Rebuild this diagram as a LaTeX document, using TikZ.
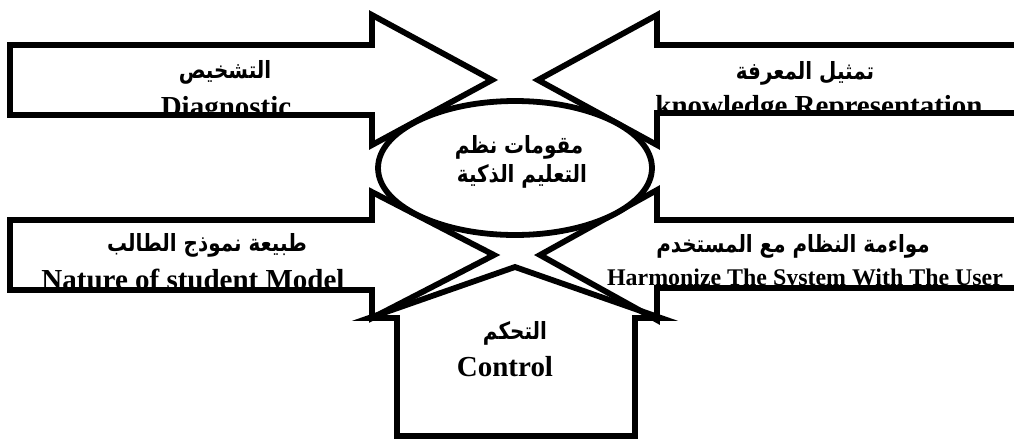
\documentclass[tikz,border=0pt]{standalone}
\usepackage{fontspec}
\setmainfont{Liberation Serif}
\newfontfamily\arabicfont[Script=Arabic, FakeStretch=0.84]{DejaVu Sans}
\TeXXeTstate=1
\usetikzlibrary{shapes.geometric}

% outlines of the block arrows, in pixel-like units
\newcommand\diagArrow{(10,45) -- (372,45) -- (372,15) -- (492,80) -- (372,145) -- (372,115) -- (10,115) -- cycle}
\newcommand\knowArrow{(1030,45) -- (657,45) -- (657,15) -- (538,80) -- (657,145) -- (657,113) -- (1030,113) -- cycle}
\newcommand\studArrow{(10,220) -- (372,220) -- (372,192) -- (494,255) -- (372,318) -- (372,290) -- (10,290) -- cycle}
\newcommand\harmArrow{(1030,220) -- (657,220) -- (657,190) -- (540,255) -- (657,320) -- (657,288) -- (1030,288) -- cycle}
\newcommand\ctrlArrow{(397,436) -- (397,318) -- (369,318) -- (515,267) -- (661,318) -- (635,318) -- (635,436) -- cycle}

\tikzset{
  shapeline/.style={line width=3.3pt, line join=miter},
  enlabel/.style={font=\bfseries\fontsize{16.5}{18}\selectfont, inner sep=0pt, anchor=base},
  enlabelsmall/.style={font=\bfseries\fontsize{13.6}{15}\selectfont, inner sep=0pt, anchor=base},
  arlabel/.style={font=\arabicfont\bfseries\fontsize{13.5}{15}\selectfont, inner sep=0pt},
}

\begin{document}
\begin{tikzpicture}[x=0.02cm, y=-0.02cm]
\useasboundingbox (0,0) rectangle (1014,440);
\clip (0,0) rectangle (1014,440);

% labels inside the arrows, cut off by the arrow outline
\begin{scope}
  \clip \diagArrow;
  \node[arlabel] (diagAr) at (225,72) {\beginR التشخيص\endR};
  \node[enlabel] (diagEn) at (226,116) {Diagnostic};
\end{scope}
\begin{scope}
  \clip \knowArrow;
  \node[arlabel] (knowAr) at (805,73) {\beginR تمثيل المعرفة\endR};
  \node[enlabel] (knowEn) at (819,115) {knowledge Representation};
\end{scope}
\begin{scope}
  \clip \studArrow;
  \node[arlabel] (studAr) at (207,245) {\beginR طبيعة نموذج الطالب\endR};
  \node[enlabel] (studEn) at (193,289) {Nature of student Model};
\end{scope}
\begin{scope}
  \clip \harmArrow;
  \node[arlabel] (harmAr) at (793,246) {\beginR مواءمة النظام مع المستخدم\endR};
  \node[enlabelsmall] (harmEn) at (805,285) {Harmonize The System With The User};
\end{scope}

% arrow outlines
\draw[shapeline] \diagArrow;
\draw[shapeline] \knowArrow;
\draw[shapeline] \studArrow;
\draw[shapeline] \harmArrow;
\draw[shapeline] \ctrlArrow;

% central ellipse
\node[ellipse, draw, fill=white, shapeline, inner sep=0pt,
      minimum width=5.48cm, minimum height=2.68cm] (core) at (515,168) {};
\node[arlabel] (coreA) at (519,147) {\beginR مقومات نظم\endR};
\node[arlabel] (coreB) at (522,176) {\beginR التعليم الذكية\endR};

% control block
\node[arlabel] (ctrlAr) at (515,333) {\beginR التحكم\endR};
\node[enlabel] (ctrlEn) at (505,376) {Control};
\end{tikzpicture}
\end{document}
